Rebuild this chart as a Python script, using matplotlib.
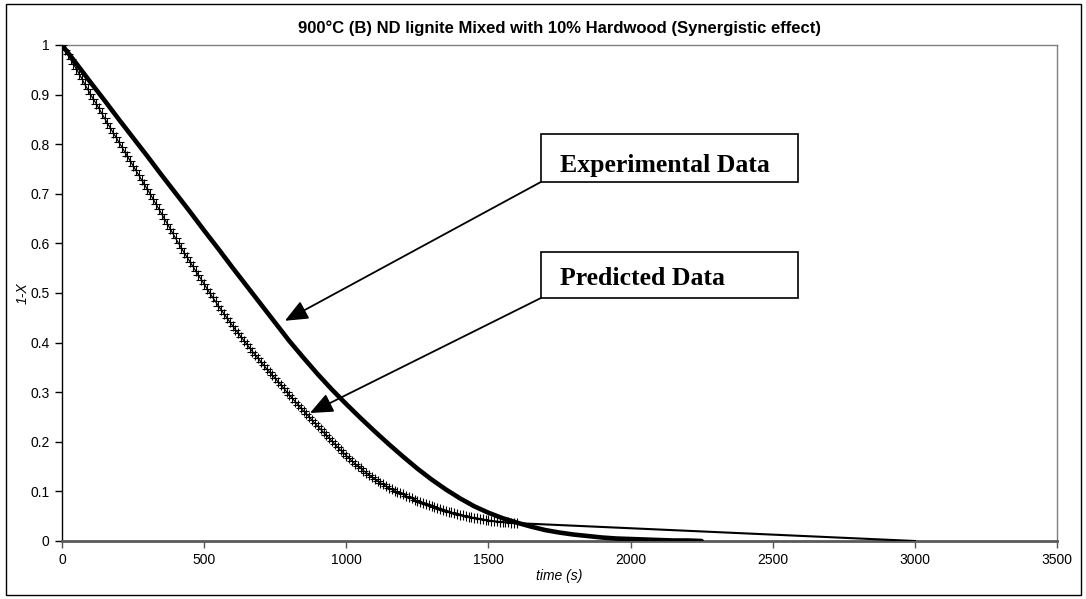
import matplotlib
matplotlib.use("Agg")
import matplotlib.pyplot as plt
from matplotlib.patches import Rectangle

# ---- data ----
exp_time = [0, 50, 100, 150, 200, 250, 300, 350, 400, 450, 500, 550, 600, 650, 700,
            750, 800, 850, 900, 950, 1000, 1050, 1100, 1150, 1200, 1250, 1300, 1350,
            1400, 1450, 1500, 1550, 1600, 1650, 1700, 1750, 1800, 1850, 1900, 1950,
            2000, 2050, 2100, 2150, 2200, 2250]
exp_val = [1.000, 0.963, 0.925, 0.888, 0.850, 0.813, 0.776, 0.738, 0.701, 0.664,
           0.626, 0.589, 0.551, 0.514, 0.477, 0.440, 0.403, 0.369, 0.336, 0.305,
           0.276, 0.248, 0.221, 0.195, 0.170, 0.146, 0.124, 0.104, 0.086, 0.070,
           0.057, 0.046, 0.037, 0.029, 0.022, 0.017, 0.013, 0.010, 0.007, 0.005,
           0.004, 0.003, 0.002, 0.001, 0.001, 0.000]

pred_time = list(range(0, 1601, 10))
pred_val = [
    1.000, 0.990, 0.981, 0.971, 0.962, 0.952, 0.942, 0.932, 0.921, 0.911,   # 0-90
    0.901, 0.891, 0.882, 0.872, 0.862, 0.852, 0.842, 0.833, 0.823, 0.814,   # 100-190
    0.804, 0.795, 0.785, 0.776, 0.766, 0.757, 0.747, 0.738, 0.728, 0.719,   # 200-290
    0.709, 0.700, 0.690, 0.680, 0.670, 0.660, 0.650, 0.640, 0.630, 0.620,   # 300-390
    0.610, 0.600, 0.591, 0.581, 0.572, 0.563, 0.554, 0.545, 0.536, 0.527,   # 400-490
    0.518, 0.509, 0.500, 0.491, 0.483, 0.474, 0.466, 0.458, 0.450, 0.442,   # 500-590
    0.434, 0.426, 0.419, 0.411, 0.404, 0.397, 0.389, 0.382, 0.375, 0.368,   # 600-690
    0.361, 0.354, 0.347, 0.341, 0.334, 0.328, 0.321, 0.315, 0.308, 0.301,   # 700-790
    0.294, 0.288, 0.281, 0.275, 0.268, 0.262, 0.256, 0.250, 0.243, 0.237,   # 800-890
    0.231, 0.225, 0.219, 0.213, 0.207, 0.201, 0.195, 0.189, 0.183, 0.178,   # 900-990
    0.172, 0.167, 0.161, 0.156, 0.151, 0.147, 0.142, 0.138, 0.133, 0.129,   # 1000-1090
    0.125, 0.121, 0.117, 0.114, 0.110, 0.107, 0.104, 0.101, 0.099, 0.096,   # 1100-1190
    0.094, 0.091, 0.088, 0.086, 0.083, 0.081, 0.078, 0.076, 0.074, 0.072,   # 1200-1290
    0.070, 0.068, 0.066, 0.064, 0.062, 0.061, 0.059, 0.058, 0.056, 0.055,   # 1300-1390
    0.053, 0.052, 0.050, 0.049, 0.048, 0.047, 0.046, 0.045, 0.044, 0.043,   # 1400-1490
    0.042, 0.041, 0.040, 0.040, 0.039, 0.039, 0.038, 0.038, 0.037, 0.037,   # 1500-1590
    0.036,                                                                  # 1600
]
pred_tail_time = [1600, 3000]
pred_tail_val = [0.036, 0.000]

x_ticks = [0, 500, 1000, 1500, 2000, 2500, 3000, 3500]
y_ticks = [0, 0.1, 0.2, 0.3, 0.4, 0.5, 0.6, 0.7, 0.8, 0.9, 1]
y_tick_labels = ["0", "0.1", "0.2", "0.3", "0.4", "0.5", "0.6", "0.7", "0.8", "0.9", "1"]

title = "900°C (B) ND lignite Mixed with 10% Hardwood (Synergistic effect)"

sans = ["Liberation Sans", "DejaVu Sans"]
serif = ["Liberation Serif", "DejaVu Serif"]

fig = plt.figure(figsize=(10.86, 5.99), dpi=100)
fig.patch.set_facecolor("white")
ax = fig.add_axes([62 / 1086, 58 / 599, 995 / 1086, 496 / 599])

# outer chart border
fig.add_artist(Rectangle((6 / 1086, 4 / 599), 1075 / 1086, 591 / 599,
                         transform=fig.transFigure, fill=False,
                         edgecolor="black", lw=1.0))

ax.plot(pred_time, pred_val, color="black", lw=0.9, marker="+",
        markersize=7, markeredgewidth=0.8, zorder=3)
ax.plot(pred_tail_time, pred_tail_val, color="black", lw=1.5, zorder=3)
ax.plot(exp_time, exp_val, color="black", lw=3.3, solid_capstyle="round",
        solid_joinstyle="round", zorder=4)

ax.set_xlim(0, 3500)
ax.set_ylim(0, 1)
ax.set_xticks(x_ticks)
ax.set_xticklabels([str(v) for v in x_ticks], fontfamily=sans, fontsize=10)
ax.set_yticks(y_ticks)
ax.set_yticklabels(y_tick_labels, fontfamily=sans, fontsize=10)
ax.tick_params(axis="both", direction="out", length=5, width=1, pad=4,
               colors="black")
ax.tick_params(axis="x", color="#555555")

for side in ["top", "right"]:
    ax.spines[side].set_color("#808080")
    ax.spines[side].set_linewidth(1.0)
ax.spines["left"].set_color("black")
ax.spines["left"].set_linewidth(1.0)
ax.spines["bottom"].set_color("#5a5a5a")
ax.spines["bottom"].set_linewidth(2.0)

ax.set_xlabel("time (s)", fontfamily=sans, fontsize=10, style="italic",
              labelpad=1)
ax.set_ylabel("1-X", fontfamily=sans, fontsize=10, style="italic",
              labelpad=0)
ax.set_title(title, fontfamily=sans, fontsize=12, fontweight="bold", pad=9)

# annotation boxes
ax.add_patch(Rectangle((1685, 0.724), 904, 0.0966, facecolor="white",
                       edgecolor="black", lw=1.2, zorder=5, clip_on=False))
ax.add_patch(Rectangle((1685, 0.490), 904, 0.093, facecolor="white",
                       edgecolor="black", lw=1.2, zorder=5, clip_on=False))
ax.text(1752, 0.744, "Experimental Data", fontfamily=serif, fontsize=18.5,
        fontweight="bold", va="baseline", ha="left", zorder=6)
ax.text(1752, 0.516, "Predicted Data", fontfamily=serif, fontsize=18.5,
        fontweight="bold", va="baseline", ha="left", zorder=6)

arrow = dict(arrowstyle="-|>,head_length=0.7,head_width=0.3",
             mutation_scale=20, lw=1.3, color="black",
             shrinkA=0, shrinkB=0)
ax.annotate("", xy=(784, 0.444), xytext=(1685, 0.724), arrowprops=arrow,
            zorder=6)
ax.annotate("", xy=(872, 0.258), xytext=(1685, 0.490), arrowprops=arrow,
            zorder=6)

fig.savefig("out.png", dpi=100, facecolor="white")
